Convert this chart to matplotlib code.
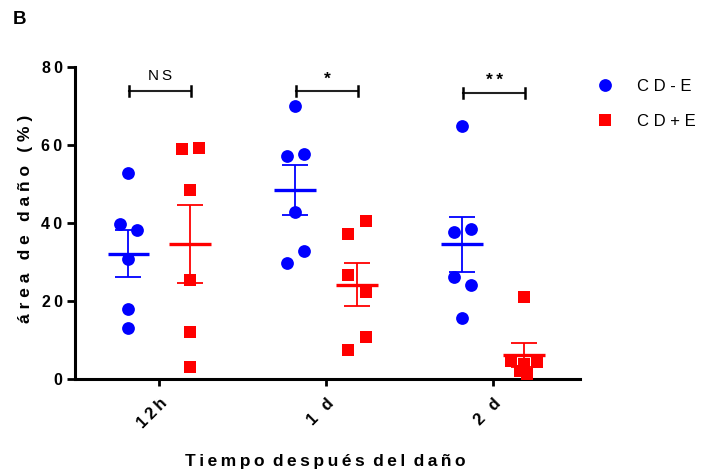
import numpy as np
import matplotlib
matplotlib.use("Agg")
import matplotlib.pyplot as plt
from matplotlib.lines import Line2D

plt.rcParams['font.family'] = ['Liberation Sans', 'DejaVu Sans']

# ---- data ----
groups = ["12h", "1 d", "2 d"]
series_names = ["CD-E", "CD+E"]

cde_12h = [52.9, 39.8, 38.3, 30.7, 18.0, 13.2]
cde_1d = [70.0, 57.2, 57.7, 42.7, 32.9, 29.8]
cde_2d = [64.8, 38.5, 37.8, 26.2, 24.1, 15.7]

cdpe_12h = [59.0, 59.3, 48.5, 25.3, 12.1, 3.1]
cdpe_1d = [40.6, 37.1, 26.7, 22.4, 10.7, 7.4]
cdpe_2d = [21.1, 4.6, 4.3, 3.8, 2.0, 1.2]

# side-by-side offsets for overlapping points (in marker-spacing units)
cde_spread = [[0, -1, 1, 0, 0, 0], [0, -1, 1, 0, 1, -1], [0, 1, -1, -1, 1, 0]]
cdpe_spread = [[-1, 1, 0, 0, 0, 0], [1, -1, -1, 1, 1, -1], [0, -1.5, 1.5, 0, -0.5, 0.3]]

sig_labels = ["NS", "*", "**"]
sig_heights = [73.8, 73.8, 73.4]

yticks = [0, 20, 40, 60, 80]

blue = "#0000FF"
red = "#FF0000"


def spaced(s, sep="\u2009"):
    return sep.join(s)


def spaced_words(text, sep, wsep):
    return wsep.join(spaced(w, sep) for w in text.split(" "))


fig = plt.figure(figsize=(7.01, 4.73), dpi=100)
ax = fig.add_axes([75 / 701, 1 - 379 / 473, 505 / 701, 312 / 473])

x = np.arange(len(groups))
off = 0.185
step = 0.052
series = [
    ([cde_12h, cde_1d, cde_2d], cde_spread, -off, blue, "o"),
    ([cdpe_12h, cdpe_1d, cdpe_2d], cdpe_spread, off, red, "s"),
]
for data, spread, dx, col, mk in series:
    for i, vals in enumerate(data):
        vals = np.asarray(vals)
        xs = x[i] + dx + step * np.asarray(spread[i])
        ax.plot(xs, vals, linestyle="none", marker=mk, markersize=9.2,
                color=col, markeredgewidth=0, zorder=3, clip_on=False)
        m = vals.mean()
        sem = vals.std(ddof=1) / np.sqrt(len(vals))
        cx = x[i] + dx
        ax.plot([cx - 0.125, cx + 0.125], [m, m], color=col, lw=2.4,
                solid_capstyle="butt", zorder=4)
        ax.errorbar([cx], [m], yerr=[sem], color=col, lw=1.3, capsize=9.5,
                    capthick=1.3, fmt="none", zorder=4)

# significance brackets
for i, (lab, h) in enumerate(zip(sig_labels, sig_heights)):
    x0, x1 = x[i] - off + 0.005, x[i] + off + 0.005
    ax.plot([x0, x1], [h, h], color="#222222", lw=1.5, clip_on=False)
    ax.plot([x0, x0], [h - 1.3, h + 1.3], color="black", lw=1.8, clip_on=False)
    ax.plot([x1, x1], [h - 1.3, h + 1.3], color="black", lw=1.8, clip_on=False)
    is_star = "*" in lab
    ax.text((x0 + x1) / 2, h + (1.2 if is_star else 2.0), spaced(lab), ha="center", va="bottom",
            fontsize=12.5 if is_star else 11, fontweight="bold" if is_star else "normal",
            clip_on=False)

ax.set_xlim(-0.505, 2.52)
ax.set_ylim(0, 80)
ax.set_yticks(yticks)
ax.set_yticklabels([spaced(str(v)) for v in yticks], fontsize=11.5, fontweight="bold")
ax.set_xticks(x)
ax.set_xticklabels([spaced(g) for g in groups], fontsize=12, fontweight="bold", rotation=45,
                   ha="right", va="top", rotation_mode="anchor")
for s in ["top", "right"]:
    ax.spines[s].set_visible(False)
for s in ["left", "bottom"]:
    ax.spines[s].set_linewidth(2.2)
ax.tick_params(axis="y", length=6, width=2, pad=3)
ax.tick_params(axis="x", length=5, width=2, pad=7)

ax.set_xlabel(spaced_words("Tiempo después del daño", "\u2009", " \u2009"),
              fontsize=12.5, fontweight="bold")
ax.xaxis.set_label_coords(0.496, -0.266)
ax.xaxis.label.set_verticalalignment("center")
ax.set_ylabel(spaced_words("área de daño (%)", " ", "  \u2009"),
              fontsize=12.5, fontweight="bold")
ax.yaxis.set_label_coords(-0.099, 0.513)
ax.yaxis.label.set_verticalalignment("center")

handles = [
    Line2D([], [], linestyle="none", marker="o", markersize=9.2, color=blue, markeredgewidth=0),
    Line2D([], [], linestyle="none", marker="s", markersize=9.2, color=red, markeredgewidth=0),
]
labels = [" ".join(n) for n in series_names]
fig.legend(handles, labels, loc="upper left", bbox_to_anchor=(596.7 / 701, 1 - 79 / 473),
           frameon=False, fontsize=12, handlelength=1.0, handletextpad=1.42,
           labelspacing=1.2, borderpad=0, borderaxespad=0)

fig.text(13 / 701, 1 - 20 / 473, "B", fontsize=13.5, fontweight="bold", va="center", ha="left")

fig.savefig("out.png", dpi=100)
